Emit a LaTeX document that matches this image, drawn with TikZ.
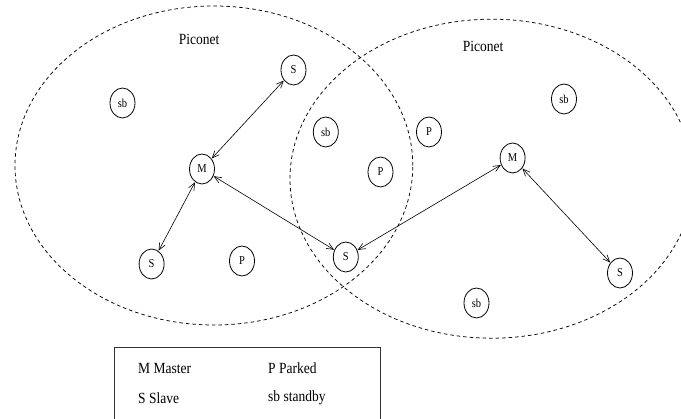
\documentclass[tikz,border=0pt]{standalone}
\usepackage{fontspec}
\setmainfont{Liberation Serif}
\usetikzlibrary{shapes.geometric,arrows.meta}
% text in this figure is set slightly taller than wide
\newcommand{\tallbox}[1]{\scalebox{1}[1.15]{#1}}
\begin{document}
\begin{tikzpicture}[x=1pt,y=-1pt,
  dev/.style={ellipse,draw,line width=0.8pt,minimum width=25pt,minimum height=30pt,
              inner sep=0pt,font=\fontsize{10.5}{12}\selectfont},
  link/.style={line width=0.6pt,
               {Straight Barb[length=7pt,width=6pt]}-{Straight Barb[length=7pt,width=6pt]},
               shorten <=0.3pt,shorten >=0.3pt},
  net/.style={dash pattern=on 3.5pt off 3pt,line width=0.75pt},
  lbl/.style={font=\fontsize{13.5}{16}\selectfont,inner sep=0pt}]
\useasboundingbox (0,0) rectangle (681,419);
\clip (0,0) rectangle (681,419);

% the two piconets
\draw[net] (213.9,165.5) ellipse [x radius=198.9pt,y radius=159.5pt];
\draw[net] (491.7,178.7) ellipse [x radius=201.7pt,y radius=159.5pt];
\node[lbl] (net1) at (199,39) {\tallbox{Piconet}};
\node[lbl] (net2) at (483,46) {\tallbox{Piconet}};

% devices
\node[dev] (s1)  at (293.5,70)  {\tallbox{S}};
\node[dev] (sb1) at (122.5,103) {\tallbox{sb}};
\node[dev] (sb2) at (325.8,132) {\tallbox{sb}};
\node[dev] (p1)  at (429,132)   {\tallbox{P}};
\node[dev] (sb3) at (564,99)    {\tallbox{sb}};
\node[dev] (m1)  at (202,169)   {\tallbox{M}};
\node[dev] (p2)  at (380.5,172) {\tallbox{P}};
\node[dev] (m2)  at (512.6,158) {\tallbox{M}};
\node[dev] (s2)  at (151.6,264) {\tallbox{S}};
\node[dev] (p3)  at (242,261)   {\tallbox{P}};
\node[dev] (s3)  at (345.8,257) {\tallbox{S}};
\node[dev] (s4)  at (620,273)   {\tallbox{S}};
\node[dev] (sb4) at (476.5,303) {\tallbox{sb}};

% links between master and slaves
\draw[link] (m1) -- (s1);
\draw[link] (m1) -- (s2);
\draw[link] (m1) -- (s3);
\draw[link] (s3) -- (m2);
\draw[link] (m2) -- (s4);

% legend
\draw[line width=0.7pt,black!80] (114,425) -- (114,347) -- (380,347) -- (380,425);
\node[lbl,anchor=west] (lm) at (138,368) {\tallbox{M Master}};
\node[lbl,anchor=west] (ls) at (138,398) {\tallbox{S Slave}};
\node[lbl,anchor=west] (lp) at (268,368) {\tallbox{P Parked}};
\node[lbl,anchor=west] (lsb) at (268,398) {\tallbox{sb standby}};
\end{tikzpicture}
\end{document}
